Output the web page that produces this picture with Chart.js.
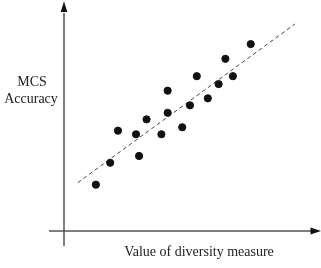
<!DOCTYPE html>
<html>
<head>
<meta charset="utf-8">
<script src="https://cdn.jsdelivr.net/npm/chart.js@4.4.0/dist/chart.umd.min.js"></script>
<style>
  html, body { margin: 0; padding: 0; background: #fff; }
  #wrap { width: 321px; height: 268px; }
</style>
</head>
<body>
<div id="wrap"><canvas id="myChart" width="321" height="268"></canvas></div>
<script>
// values (arbitrary units, axis 0..10)
let diversity = [1.27, 1.84, 2.15, 2.87, 2.99, 3.29, 3.88, 4.13, 4.13, 4.71, 5.02, 5.29, 5.73, 6.16, 6.43, 6.73, 7.44]
let accuracy  = [2.05, 3.02, 4.44, 4.28, 3.32, 4.94, 4.28, 6.21, 5.23, 4.59, 5.56, 6.85, 5.87, 6.50, 7.62, 6.85, 8.27]
let trendX = [0.55, 9.20]
let trendY = [2.14, 9.16]

let xLabel = 'Value of diversity measure'
let yLabel = ['MCS', 'Accuracy']

let points = diversity.map((v, i) => ({ x: v, y: accuracy[i] }))
let trend = trendX.map((v, i) => ({ x: v, y: trendY[i] }))

// axes with arrowheads + the two captions
let axesPlugin = {
    id: 'arrowAxes',
    beforeDatasetsDraw(chart) {
        let ctx = chart.ctx
        let a = chart.chartArea
        let x0 = chart.scales.x.getPixelForValue(0)
        let y0 = chart.scales.y.getPixelForValue(0)
        ctx.save()
        ctx.strokeStyle = '#555'
        ctx.fillStyle = '#111'
        ctx.lineWidth = 1.5
        ctx.beginPath()
        ctx.moveTo(x0, 246)
        ctx.lineTo(x0, a.top + 8)
        ctx.moveTo(49, y0)
        ctx.lineTo(a.right, y0)
        ctx.stroke()
        // arrowheads
        ctx.beginPath()
        ctx.moveTo(x0, 1.5)
        ctx.lineTo(x0 - 3.3, 12)
        ctx.lineTo(x0 + 3.3, 12)
        ctx.closePath()
        ctx.fill()
        ctx.beginPath()
        ctx.moveTo(321, y0)
        ctx.lineTo(310.5, y0 - 3.6)
        ctx.lineTo(310.5, y0 + 3.6)
        ctx.closePath()
        ctx.fill()
        // captions
        ctx.fillStyle = '#222'
        ctx.font = '14px "Liberation Serif", "Times New Roman", serif'
        ctx.textAlign = 'center'
        ctx.textBaseline = 'middle'
        ctx.fillText(xLabel, 199, 252)
        ctx.fillText(yLabel[0], 32, 82)
        ctx.fillText(yLabel[1], 31, 99)
        ctx.restore()
    }
}

let chartCtx = document.getElementById('myChart').getContext('2d')
let myChart = new Chart(chartCtx, {
    type: 'scatter',
    data: {
        datasets: [
            {
                data: points,
                backgroundColor: '#111',
                borderColor: '#111',
                pointRadius: 3.6,
                pointHoverRadius: 3.6,
            },
            {
                type: 'line',
                data: trend,
                borderColor: '#444',
                borderWidth: 1,
                borderDash: [4, 3],
                pointRadius: 0,
                fill: false,
            },
        ],
    },
    options: {
        responsive: false,
        animation: false,
        layout: { padding: { left: 64, right: 6, top: 5, bottom: 37 } },
        plugins: {
            legend: { display: false },
            tooltip: { enabled: false },
        },
        scales: {
            x: { type: 'linear', min: 0, max: 10, display: false },
            y: { type: 'linear', min: 0, max: 10, display: false },
        },
    },
    plugins: [axesPlugin],
})
</script>
</body>
</html>
